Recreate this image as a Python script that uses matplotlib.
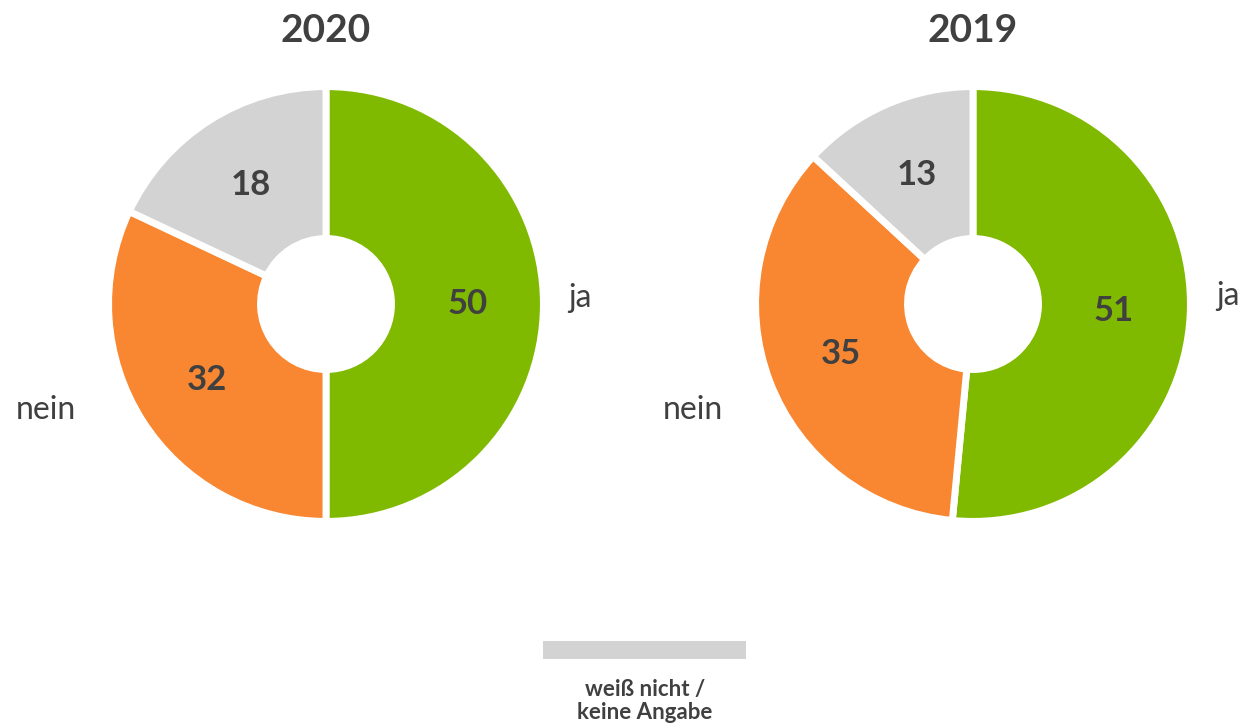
import matplotlib.pyplot as plt
import matplotlib.patches as mpatches
import numpy as np

plt.rcParams['font.family'] = ['Lato', 'DejaVu Sans']

years = ["2020", "2019"]
categories = ["ja", "nein", "weiß nicht / keine Angabe"]
values_2020 = [50, 32, 18]
values_2019 = [51, 35, 13]
colors = ["#80BA00", "#F98732", "#D3D3D3"]
text_col = "#404040"

W, H = 1242, 726
fig = plt.figure(figsize=(W / 100, H / 100), dpi=100)

R = 214.0      # outer radius in px
half = 320.0   # half size of axes in px
lim = half / R


def donut(cx, cy, vals, year, ja_xy, nein_xy):
    ax = fig.add_axes(((cx - half) / W, (H - cy - half) / H, 2 * half / W, 2 * half / H))
    wedges, _ = ax.pie(vals, colors=colors, startangle=90, counterclock=False,
                       radius=1.016,
                       wedgeprops=dict(width=0.71, edgecolor='white', linewidth=5))
    ax.set_xlim(-lim, lim)
    ax.set_ylim(-lim, lim)
    ax.set_aspect('equal')
    ax.axis('off')
    for w, v in zip(wedges, vals):
        ang = np.deg2rad((w.theta1 + w.theta2) / 2)
        ax.text(0.66 * np.cos(ang), 0.66 * np.sin(ang), str(v), ha='center', va='center',
                fontsize=25, fontweight='bold', color=text_col)
    # title and outside labels, given in px relative to centre
    ax.text(0, (cy - 30) / R, year, ha='center', va='center', fontsize=28,
            fontweight='bold', color=text_col, clip_on=False)
    ax.text((ja_xy[0] - cx) / R, (cy - ja_xy[1]) / R, categories[0], ha='center',
            va='center', fontsize=23, color=text_col, clip_on=False)
    ax.text((nein_xy[0] - cx) / R, (cy - nein_xy[1]) / R, categories[1], ha='center',
            va='center', fontsize=23, color=text_col, clip_on=False)


donut(326, 304, values_2020, years[0], (580, 298), (46, 410))
donut(973, 304, values_2019, years[1], (1228, 296), (693, 410))

# legend
fig.patches.append(mpatches.Rectangle((543 / W, 1 - 659 / H), 203 / W, 18 / H,
                                      transform=fig.transFigure, facecolor=colors[2],
                                      edgecolor='none'))
fig.text(645 / W, 1 - 701 / H, "weiß nicht /\nkeine Angabe", ha='center', va='center',
         fontsize=16, fontweight='bold', color=text_col, linespacing=1.1)

fig.savefig("out.png", dpi=100, facecolor='white')
